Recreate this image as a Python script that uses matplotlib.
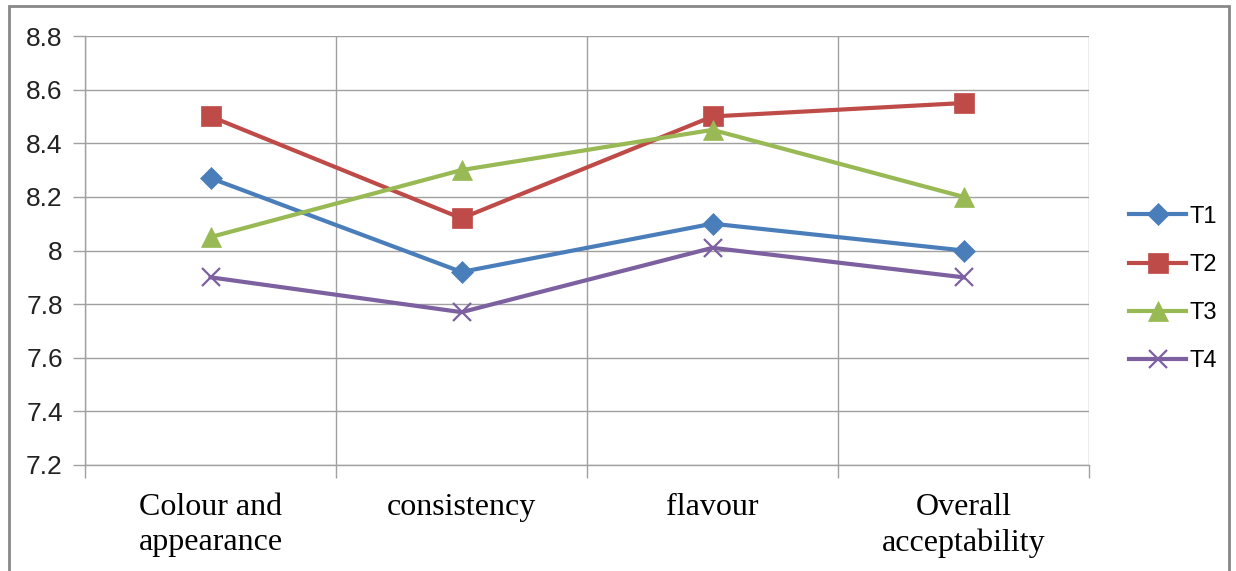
import matplotlib
matplotlib.use("Agg")
import matplotlib.pyplot as plt
from matplotlib.patches import Rectangle

categories = ["Colour and\nappearance", "consistency", "flavour", "Overall\nacceptability"]
series_names = ["T1", "T2", "T3", "T4"]
t1 = [8.27, 7.92, 8.10, 8.00]
t2 = [8.50, 8.12, 8.50, 8.55]
t3 = [8.05, 8.30, 8.45, 8.20]
t4 = [7.90, 7.77, 8.01, 7.90]
y_ticks = [7.2, 7.4, 7.6, 7.8, 8.0, 8.2, 8.4, 8.6, 8.8]
y_tick_labels = ["7.2", "7.4", "7.6", "7.8", "8", "8.2", "8.4", "8.6", "8.8"]

COLORS = ["#4A7EBB", "#BE4B48", "#98B954", "#7D60A0"]
MARKERS = ["D", "s", "^", "x"]
MSIZES = [11, 14, 14, 13]
GRID = "#A0A0A0"

fig = plt.figure(figsize=(12.36, 5.71), dpi=100)
ax = fig.add_axes([85 / 1236, 1 - 465 / 571, (1089 - 85) / 1236, (465 - 36) / 571])

x = list(range(len(categories)))
for name, vals, c, m, ms in zip(series_names, [t1, t2, t3, t4], COLORS, MARKERS, MSIZES):
    ax.plot(x, vals, color=c, lw=3, marker=m, markersize=ms,
            markeredgewidth=1.6 if m == "x" else 0.5, markeredgecolor=c,
            label=name, zorder=3)

ax.set_xlim(-0.5, len(categories) - 0.5)
ax.set_ylim(7.2, 8.8)
ax.set_yticks(y_ticks)
ax.set_yticklabels(y_tick_labels, fontsize=19, family="Liberation Sans", color="#222222")
ax.set_xticks(x)
ax.set_xticklabels(categories, fontsize=23, family="Liberation Serif", linespacing=1.3)
ax.set_xticks([i - 0.5 for i in range(len(categories) + 1)], minor=True)
ax.tick_params(axis="x", which="major", length=0, pad=20)
ax.tick_params(axis="x", which="minor", length=9, color=GRID, width=1)
ax.tick_params(axis="y", length=9, color=GRID, width=1, pad=7)

ax.grid(axis="y", color=GRID, lw=1)
ax.grid(axis="x", which="minor", color=GRID, lw=1)
for side in ["top", "right"]:
    ax.spines[side].set_visible(False)
for side in ["left", "bottom"]:
    ax.spines[side].set_color(GRID)
    ax.spines[side].set_linewidth(1)

fig.legend(loc="center left", bbox_to_anchor=(1108 / 1236, 1 - 289 / 571),
           frameon=False, prop={"family": "Liberation Sans", "size": 17},
           handlelength=2.4, labelspacing=1.11, handletextpad=0.15)

fig.patches.append(Rectangle((9 / 1236, -0.05), (1229 - 9) / 1236, 1.05 - 6 / 571,
                             transform=fig.transFigure, fill=False,
                             edgecolor="#888888", lw=2))

fig.savefig("out.png", dpi=100)
